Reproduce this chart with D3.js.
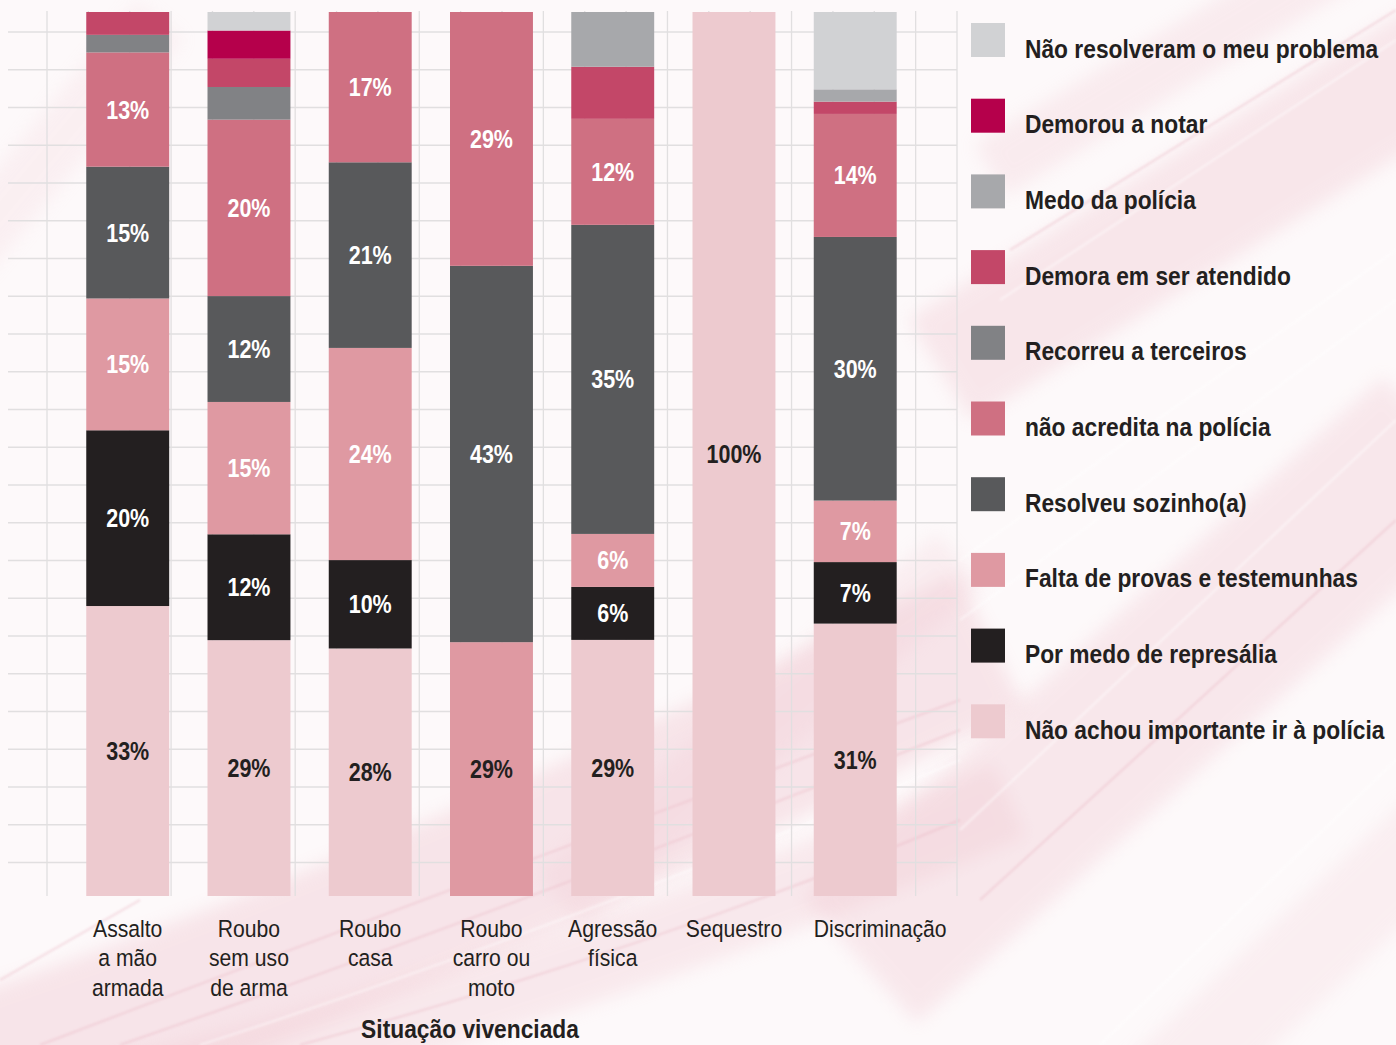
<!DOCTYPE html>
<html>
<head>
<meta charset="utf-8">
<script src="https://cdn.jsdelivr.net/npm/d3@7"></script>
<style>
  html, body { margin: 0; padding: 0; background: #fdf9fa; }
  svg { display: block; }
</style>
</head>
<body>
<svg id="chart" width="1396" height="1045"></svg>
<script>
// Situations, in the order the bars are drawn (line breaks split the axis labels)
const categories = [
  "Assalto\na mão\narmada",
  "Roubo\nsem uso\nde arma",
  "Roubo\ncasa",
  "Roubo\ncarro ou\nmoto",
  "Agressão\nfísica",
  "Sequestro",
  "Discriminação"
];

// Reasons, stacked from the bottom of each bar upwards
const reasons = [
  "Não achou importante ir à polícia",
  "Por medo de represália",
  "Falta de provas e testemunhas",
  "Resolveu sozinho(a)",
  "não acredita na polícia",
  "Recorreu a terceiros",
  "Demora em ser atendido",
  "Medo da polícia",
  "Demorou a notar",
  "Não resolveram o meu problema"
];

// Share (%) of each reason per situation, same order as categories
const naoAchouImportante = [33, 29, 28, 0, 29, 100, 31];
const medoRepresalia     = [20, 12, 10, 0, 6, 0, 7];
const faltaProvas        = [15, 15, 24, 29, 6, 0, 7];
const resolveuSozinho    = [15, 12, 21, 43, 35, 0, 30];
const naoAcredita        = [13, 20, 17, 29, 12, 0, 14];
const recorreuTerceiros  = [2, 3.7, 0, 0, 0, 0, 0];
const demoraAtendido     = [2.6, 3.2, 0, 0, 5.9, 0, 1.4];
const medoPolicia        = [0, 0, 0, 0, 6.2, 0, 1.4];
const demorouNotar       = [0, 3.2, 0, 0, 0, 0, 0];
const naoResolveram      = [0, 2.1, 0, 0, 0, 0, 8.8];

const seriesValues = [
  naoAchouImportante, medoRepresalia, faltaProvas, resolveuSozinho, naoAcredita,
  recorreuTerceiros, demoraAtendido, medoPolicia, demorouNotar, naoResolveram
];

// Reasons whose share is printed inside the bars
const labelledReasons = reasons.slice(0, 5);

// Palette, one colour per reason
const palette = [
  "#edcacf", "#231f20", "#df99a2", "#58595b", "#cf7082",
  "#818285", "#c34768", "#a7a8ab", "#b5004b", "#d1d2d4"
];

// ---- data table for d3.stack ----
const table = categories.map((c, i) => {
  const row = { category: c };
  reasons.forEach((r, k) => { row[r] = seriesValues[k][i]; });
  return row;
});

const stack = d3.stack()
  .keys(reasons)
  .order(d3.stackOrderNone)
  .offset(d3.stackOffsetExpand);
const layers = stack(table);

const svg = d3.select("#chart");
const W = 1396, H = 1045;
const FONT = "'Liberation Sans', Arial, Helvetica, sans-serif";
const BOLD_SQUEEZE = 0.86;   // horizontal squeeze giving a condensed face
const REG_SQUEEZE = 0.9;

// ---- background: pale paper with soft pink brush strokes ----
const defs = svg.append("defs");
defs.append("filter").attr("id", "soft")
  .attr("x", "-30%").attr("y", "-30%").attr("width", "160%").attr("height", "160%")
  .append("feGaussianBlur").attr("stdDeviation", 9);
defs.append("filter").attr("id", "softer")
  .attr("x", "-20%").attr("y", "-20%").attr("width", "140%").attr("height", "140%")
  .append("feGaussianBlur").attr("stdDeviation", 1.2);

const bg = svg.append("g").attr("class", "background");
bg.append("rect").attr("width", W).attr("height", H).attr("fill", "#fdf9fa");

const washes = [
  { d: "M -80 1090 Q 420 930 990 640", w: 150, o: 0.38 },
  { d: "M 80 1110 Q 600 980 1010 800", w: 80, o: 0.30 },
  { d: "M 860 960 L 1440 440", w: 170, o: 0.32 },
  { d: "M 940 370 L 1440 60", w: 120, o: 0.34 },
  { d: "M 990 170 L 1340 -40", w: 60, o: 0.26 },
  { d: "M -40 260 L 160 20", w: 60, o: 0.18 },
  { d: "M 1150 1100 L 1440 830", w: 90, o: 0.20 },
  { d: "M 560 900 L 960 560", w: 70, o: 0.22 }
];
bg.selectAll("path.wash").data(washes).join("path")
  .attr("class", "wash")
  .attr("d", d => d.d)
  .attr("fill", "none")
  .attr("stroke", "#efc4ce")
  .attr("stroke-width", d => d.w)
  .attr("stroke-linecap", "butt")
  .attr("opacity", d => d.o)
  .attr("filter", "url(#soft)");

const streaks = [
  "M 40 1045 Q 420 900 960 700", "M 200 1045 Q 560 930 960 760",
  "M 300 1045 Q 650 950 960 820", "M 960 830 L 1396 420",
  "M 980 900 L 1396 520", "M 1000 300 L 1396 40", "M 1010 250 L 1396 10",
  "M 960 620 L 1396 300", "M 0 980 L 140 900", "M 1100 1045 L 1396 760",
  "M 120 1045 Q 480 920 960 730", "M 960 560 L 1396 250"
];
bg.selectAll("path.streak").data(streaks).join("path")
  .attr("class", "streak")
  .attr("d", d => d)
  .attr("fill", "none")
  .attr("stroke", (d, i) => i % 2 ? "#ffffff" : "#ebbcc7")
  .attr("stroke-width", 2.5)
  .attr("opacity", 0.4)
  .attr("filter", "url(#softer)");

// ---- scales ----
const x = d3.scaleBand()
  .domain(categories)
  .range([67.1, 915.85])
  .paddingInner(0.316)
  .paddingOuter(0.158);

const y = d3.scaleLinear().domain([0, 1]).range([896, 12]);

// ---- grid ----
const grid = svg.append("g").attr("class", "grid")
  .attr("stroke", "#e1dfe0").attr("stroke-width", 1.3);
const gridX = d3.scaleLinear().domain([0, 22]).range([47, 957]);
const gridY = d3.scaleLinear().domain([0, 22]).range([32, 862.5]);
grid.selectAll("line.v").data(d3.range(23)).join("line")
  .attr("class", "v")
  .attr("x1", d => gridX(d)).attr("x2", d => gridX(d))
  .attr("y1", 11).attr("y2", 896);
grid.selectAll("line.h").data(d3.range(23)).join("line")
  .attr("class", "h")
  .attr("x1", 8).attr("x2", 957)
  .attr("y1", d => gridY(d)).attr("y2", d => gridY(d));

// ---- bars ----
const bars = svg.append("g").attr("class", "bars");
bars.selectAll("g.layer").data(layers).join("g")
  .attr("class", "layer")
  .attr("fill", (d, i) => palette[i])
  .selectAll("rect").data(d => d.filter(p => p[1] - p[0] > 0)).join("rect")
  .attr("x", p => x(p.data.category))
  .attr("width", x.bandwidth())
  .attr("y", p => y(p[1]))
  .attr("height", p => y(p[0]) - y(p[1]));

// ---- value labels ----
const lowestKey = table.map(row => reasons.find(r => row[r] > 0));
const labelData = [];
layers.forEach(layer => {
  if (!labelledReasons.includes(layer.key)) return;
  layer.forEach((p, i) => {
    const v = table[i][layer.key];
    if (v > 0) labelData.push({ key: layer.key, cat: p.data.category, v, y0: p[0], y1: p[1], i });
  });
});
svg.append("g").attr("class", "labels")
  .selectAll("g").data(labelData).join("g")
  .attr("transform", d =>
    `translate(${x(d.cat) + x.bandwidth() / 2},${(y(d.y0) + y(d.y1)) / 2}) scale(${BOLD_SQUEEZE},1)`)
  .append("text")
  .attr("dy", "0.36em")
  .attr("text-anchor", "middle")
  .attr("font-family", FONT)
  .attr("font-weight", "bold")
  .attr("font-size", 25)
  .attr("fill", d => d.key === lowestKey[d.i] ? "#231f20" : "#ffffff")
  .text(d => d.v + "%");

// ---- x axis (labels only) ----
const xAxis = svg.append("g")
  .attr("transform", "translate(0,896)")
  .call(d3.axisBottom(x).tickSize(0).tickPadding(0));
xAxis.select(".domain").remove();
xAxis.selectAll(".tick text")
  .attr("y", 41).attr("dy", 0)
  .attr("transform", `scale(${REG_SQUEEZE},1)`)
  .attr("font-family", FONT)
  .attr("font-size", 23.5)
  .attr("fill", "#231f20")
  .each(function (d) {
    const t = d3.select(this).text(null);
    const spans = d.split("\n").map((line, k) =>
      t.append("tspan").attr("x", 0).attr("dy", k === 0 ? 0 : 29.3).text(line));
    const widest = d3.max(spans, s => s.node().getComputedTextLength()) * REG_SQUEEZE;
    // labels wider than a band start at the bar's left edge instead of centring
    if (widest > x.step()) {
      t.attr("text-anchor", "start");
      t.selectAll("tspan").attr("x", -x.bandwidth() / 2 / REG_SQUEEZE);
    }
  });

svg.append("g")
  .attr("transform", `translate(470,1038) scale(${BOLD_SQUEEZE},1)`)
  .append("text")
  .attr("text-anchor", "middle")
  .attr("font-family", FONT)
  .attr("font-weight", "bold")
  .attr("font-size", 26.5)
  .attr("fill", "#231f20")
  .text("Situação vivenciada");

// ---- legend (top of stack first) ----
const legendOrder = reasons.slice().reverse();
const ly = d3.scaleBand().domain(legendOrder).range([23, 23 + 75.7 * legendOrder.length]);
const legend = svg.append("g").attr("class", "legend");
const item = legend.selectAll("g").data(legendOrder).join("g")
  .attr("transform", d => `translate(971,${ly(d)})`);
item.append("rect")
  .attr("width", 34).attr("height", 34)
  .attr("fill", d => palette[reasons.indexOf(d)]);
item.append("g")
  .attr("transform", `translate(54,34.5) scale(${BOLD_SQUEEZE},1)`)
  .append("text")
  .attr("font-family", FONT)
  .attr("font-weight", "bold")
  .attr("font-size", 26.5)
  .attr("fill", "#231f20")
  .text(d => d);
</script>
</body>
</html>
